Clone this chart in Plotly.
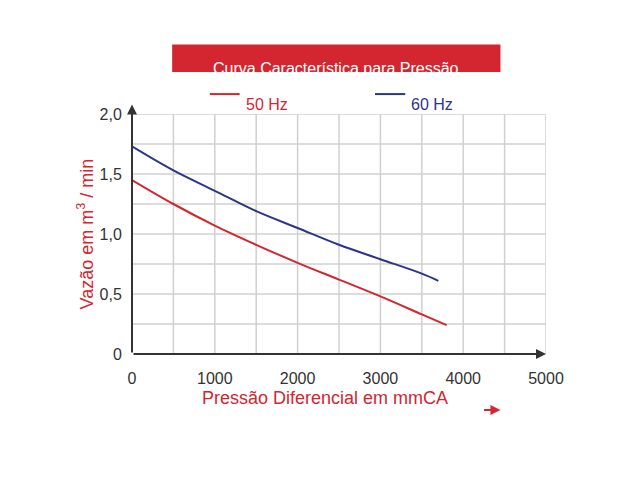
import plotly.graph_objects as go

pressao_50 = [0, 500, 1000, 1500, 2000, 2500, 3000, 3500, 3800]
vazao_50 = [1.45, 1.25, 1.07, 0.91, 0.76, 0.62, 0.48, 0.33, 0.24]
pressao_60 = [0, 500, 1000, 1500, 2000, 2500, 3000, 3500, 3700]
vazao_60 = [1.73, 1.53, 1.36, 1.19, 1.05, 0.91, 0.79, 0.67, 0.61]
x_ticks = [0, 1000, 2000, 3000, 4000, 5000]
y_ticks = [0, 0.5, 1.0, 1.5, 2.0]
y_labels = ["0", "0,5", "1,0", "1,5", "2,0"]

red = "#d32630"
blue = "#2b3589"

fig = go.Figure()
fig.add_trace(go.Scatter(x=pressao_50, y=vazao_50, mode="lines", name="50 Hz",
                         line=dict(color=red, width=2, shape="spline")))
fig.add_trace(go.Scatter(x=pressao_60, y=vazao_60, mode="lines", name="60 Hz",
                         line=dict(color=blue, width=2, shape="spline")))

fig.update_layout(
    width=640, height=480, margin=dict(l=124, r=102, t=106, b=134),
    paper_bgcolor="white", plot_bgcolor="white",
    font=dict(family="Liberation Sans, Arial", size=16, color="#333"),
    showlegend=False,
    xaxis=dict(range=[0, 5000], tickvals=x_ticks, showgrid=False, zeroline=False,
               showline=False, ticks="outside", ticklen=10, tickcolor="rgba(0,0,0,0)"),
    yaxis=dict(range=[0, 2.0], tickvals=y_ticks, ticktext=y_labels, showgrid=False,
               zeroline=False, showline=False, ticks="outside", ticklen=6,
               tickcolor="rgba(0,0,0,0)"),
)
# grid
for i in range(1, 11):
    fig.add_shape(type="line", x0=i * 500, x1=i * 500, y0=0, y1=2.0, layer="below",
                  line=dict(color="#d0d0d0", width=1.5))
for j in range(1, 9):
    fig.add_shape(type="line", x0=0, x1=5000, y0=j * 0.25, y1=j * 0.25, layer="below",
                  line=dict(color="#d0d0d0", width=1.5))
# axes with arrows
fig.add_annotation(x=5000, y=0, ax=0, ay=0, axref="x", ayref="y", xref="x", yref="y",
                   showarrow=True, arrowhead=2, arrowsize=1, arrowwidth=2, arrowcolor="#333", text="")
fig.add_annotation(x=0, y=2.08, ax=0, ay=0, axref="x", ayref="y", xref="x", yref="y",
                   showarrow=True, arrowhead=2, arrowsize=1, arrowwidth=2, arrowcolor="#333", text="")
# title box
fig.add_shape(type="rect", xref="paper", yref="paper", x0=0.097, x1=0.89, y0=1.175, y1=1.29,
              fillcolor=red, line=dict(width=0))
fig.add_annotation(xref="paper", yref="paper", x=0.493, y=1.232, showarrow=False,
                   text="Curva Característica para Pressão", font=dict(color="white", size=16))
# legend
fig.add_shape(type="line", xref="paper", yref="paper", x0=0.188, x1=0.26, y0=1.083, y1=1.083,
              line=dict(color=red, width=2))
fig.add_annotation(xref="paper", yref="paper", x=0.27, y=1.083, xanchor="left", showarrow=False,
                   text="50 Hz", font=dict(color=red, size=16))
fig.add_shape(type="line", xref="paper", yref="paper", x0=0.587, x1=0.66, y0=1.083, y1=1.083,
              line=dict(color=blue, width=2))
fig.add_annotation(xref="paper", yref="paper", x=0.67, y=1.083, xanchor="left", showarrow=False,
                   text="60 Hz", font=dict(color=blue, size=16))
# axis titles
fig.add_annotation(xref="paper", yref="paper", x=-0.145, y=0.5, textangle=-90, showarrow=False,
                   text="Vazão em m<sup>3</sup> / min", font=dict(color=red, size=18))
fig.add_annotation(xref="paper", yref="paper", x=0.466, y=-0.233, showarrow=False,
                   text="Pressão Diferencial em mmCA", font=dict(color=red, size=18))
fig.add_annotation(xref="paper", yref="paper", x=0.89, y=-0.233, ax=-18, ay=0, showarrow=True,
                   arrowhead=2, arrowwidth=2, arrowcolor=red, text="")

fig.write_html("out.html")
